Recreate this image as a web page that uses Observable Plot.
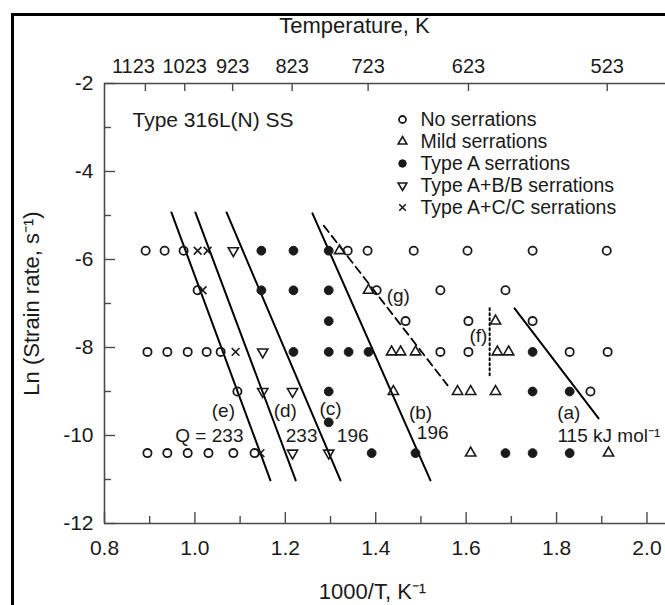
<!DOCTYPE html>
<html><head><meta charset="utf-8">
<script src="https://cdn.jsdelivr.net/npm/d3@7"></script>
<script src="https://cdn.jsdelivr.net/npm/@observablehq/plot@0.6"></script>
<style>
html,body{margin:0;padding:0;background:#fff;}
#wrap{position:relative;width:665px;height:605px;overflow:hidden;background:#fff;}
#chart{position:absolute;left:0;top:0;}
#borderTop{position:absolute;left:11px;top:13px;width:654px;height:3px;background:#000;}
#borderLeft{position:absolute;left:11px;top:13px;width:3px;height:592px;background:#000;}
</style></head><body>
<div id="wrap"><div id="chart"></div><div id="borderTop"></div><div id="borderLeft"></div></div>
<script>
// ---- data (x = 1000/T in K^-1, y = ln strain rate) ----
const noSerrations = [
  [0.891,-5.8],[0.933,-5.8],[0.975,-5.8],[1.338,-5.8],[1.382,-5.8],[1.484,-5.8],[1.603,-5.8],[1.747,-5.8],[1.911,-5.8],
  [1.006,-6.7],[1.402,-6.7],[1.543,-6.7],[1.687,-6.7],
  [1.466,-7.4],[1.605,-7.4],[1.747,-7.4],
  [0.895,-8.1],[0.939,-8.1],[0.984,-8.1],[1.026,-8.1],[1.057,-8.1],[1.543,-8.1],[1.605,-8.1],[1.829,-8.1],[1.913,-8.1],
  [1.094,-9.0],[1.875,-9.0],
  [0.895,-10.4],[0.939,-10.4],[0.984,-10.4],[1.030,-10.4],[1.085,-10.4],[1.132,-10.4]
];
const mildSerrations = [
  [1.320,-5.8],[1.384,-6.7],[1.665,-7.4],
  [1.435,-8.1],[1.455,-8.1],[1.488,-8.1],[1.669,-8.1],[1.694,-8.1],
  [1.439,-9.0],[1.581,-9.0],[1.610,-9.0],[1.665,-9.0],
  [1.610,-10.4],[1.915,-10.4]
];
const typeA = [
  [1.147,-5.8],[1.218,-5.8],[1.296,-5.8],
  [1.147,-6.7],[1.218,-6.7],[1.296,-6.7],
  [1.296,-7.4],
  [1.218,-8.1],[1.296,-8.1],[1.340,-8.1],[1.384,-8.1],[1.747,-8.1],
  [1.296,-9.0],[1.747,-9.0],[1.829,-9.0],
  [1.296,-9.7],
  [1.391,-10.4],[1.488,-10.4],[1.687,-10.4],[1.747,-10.4],[1.829,-10.4]
];
const typeAB = [[1.085,-5.8],[1.150,-8.1],[1.150,-9.0],[1.216,-9.0],[1.216,-10.4],[1.296,-10.4]];
const typeAC = [[1.006,-5.8],[1.028,-5.8],[1.017,-6.7],[1.090,-8.1],[1.145,-10.4]];

// fitted lines (end points)
const solidLines = {
  a: [[1.707,-7.11],[1.893,-9.61]],
  b: [[1.260,-4.95],[1.521,-11.02]],
  c: [[1.070,-4.93],[1.322,-11.02]],
  d: [[1.001,-4.93],[1.223,-11.02]],
  e: [[0.948,-4.93],[1.167,-11.02]]
};
const dashedLineG = [[1.285,-5.23],[1.559,-8.86]];
const dottedLineF = [[1.652,-7.11],[1.652,-8.68]];

// annotations
const lineLabels = ["(a)","(b)","(c)","(d)","(e)","(f)","(g)"];
const lineLabelX = [1.827,1.499,1.300,1.200,1.063,1.627,1.450];
const lineLabelY = [-9.48,-9.48,-9.39,-9.43,-9.43,-7.73,-6.82];
const energyLabels = ["196","196","233","Q = 233"];
const energyX = [1.526,1.349,1.236,1.032];
const energyY = [-9.95,-10.0,-10.0,-10.0];
const unitLabel = "115 kJ mol⁻¹";
const unitLabelPos = [1.802,-10.0];

// axes
const xDomain = [0.8, 2.041];
const yDomain = [-12, -2];
const xMajorTicks = [0.8,1.0,1.2,1.4,1.6,1.8,2.0];
const xMinorTicks = [0.9,1.1,1.3,1.5,1.7,1.9];
const yMajorTicks = [-2,-4,-6,-8,-10,-12];
const yMinorTicks = [-3,-5,-7,-9,-11];
const tempTicks = [1123,1023,923,823,723,623,523];
const legendLabels = ["No serrations","Mild serrations","Type A serrations","Type A+B/B serrations","Type A+C/C serrations"];

// ---- drawing ----
const INK = "#1a1a1a";
const AXIS = "#4a4a4a";
const sqrt3 = Math.sqrt(3);
const triangleDown = {draw(ctx, size){
  const y = -Math.sqrt(size / (sqrt3 * 3));
  ctx.moveTo(0, -y * 2); ctx.lineTo(-sqrt3 * y, y); ctx.lineTo(sqrt3 * y, y); ctx.closePath();
}};
const styles = [
  {symbol:"circle", fill:"none", stroke:INK, r:4.1, strokeWidth:1.8},
  {symbol:"triangle", fill:"none", stroke:INK, r:3.8, strokeWidth:1.6},
  {symbol:"circle", fill:INK, stroke:INK, r:4.4, strokeWidth:1},
  {symbol:triangleDown, fill:"none", stroke:INK, r:3.8, strokeWidth:1.6},
  {symbol:"times", fill:"none", stroke:INK, r:3.6, strokeWidth:1.6}
];
const series = [noSerrations, mildSerrations, typeA, typeAB, typeAC];

const lineRows = Object.entries(solidLines).flatMap(([k, pts]) => pts.map(p => ({k, x:p[0], y:p[1]})));
const frameW = 665 - 104, frameH = 605 - 83 - 82;

const marks = [
  // frame
  Plot.ruleX([xDomain[0]], {stroke:AXIS, strokeWidth:1.6}),
  Plot.ruleY([yDomain[1]], {stroke:AXIS, strokeWidth:1.6}),
  Plot.ruleY([yDomain[0]], {stroke:AXIS, strokeWidth:1.6}),
  // inward ticks
  Plot.tickX(xMajorTicks, {x:d=>d, insetTop:frameH-11, stroke:AXIS, strokeWidth:1.4}),
  Plot.tickX(xMinorTicks, {x:d=>d, insetTop:frameH-7, stroke:AXIS, strokeWidth:1.4}),
  Plot.tickY(yMajorTicks, {y:d=>d, insetRight:frameW-11, stroke:AXIS, strokeWidth:1.4}),
  Plot.tickY(yMinorTicks, {y:d=>d, insetRight:frameW-7, stroke:AXIS, strokeWidth:1.4}),
  Plot.tickX(tempTicks, {x:d=>1000/d, insetBottom:frameH-8, stroke:AXIS, strokeWidth:1.4}),
  // tick labels
  Plot.text(xMajorTicks, {x:d=>d, frameAnchor:"bottom", dy:25, textAnchor:"middle", lineAnchor:"middle", text:d=>d.toFixed(1), fontSize:21, fill:INK}),
  Plot.text(yMajorTicks, {y:d=>d, frameAnchor:"left", dx:-11, textAnchor:"end", lineAnchor:"middle", text:d=>String(d), fontSize:21, fill:INK}),
  Plot.text(tempTicks.slice(0,1), {x:d=>1000/d, frameAnchor:"top", dy:-17, dx:-12, textAnchor:"middle", lineAnchor:"middle", text:d=>String(d), fontSize:20, fill:INK}),
  Plot.text(tempTicks.slice(1), {x:d=>1000/d, frameAnchor:"top", dy:-17, textAnchor:"middle", lineAnchor:"middle", text:d=>String(d), fontSize:20, fill:INK}),
  // axis titles
  Plot.text(["Temperature, K"], {frameAnchor:"top-left", dx:250, dy:-58, textAnchor:"middle", lineAnchor:"middle", fontSize:22, fill:INK}),
  Plot.text(["1000/T, K⁻¹"], {frameAnchor:"bottom-left", dx:268, dy:68, textAnchor:"middle", lineAnchor:"middle", fontSize:22, fill:INK}),
  Plot.text(["Ln (Strain rate, s⁻¹)"], {frameAnchor:"left", rotate:-90, dx:-73, dy:0, textAnchor:"middle", lineAnchor:"middle", fontSize:22, fill:INK}),
  Plot.text(["Type 316L(N) SS"], {frameAnchor:"top-left", dx:28, dy:37, textAnchor:"start", lineAnchor:"middle", fontSize:21, fill:INK}),
  // fit lines
  Plot.line(lineRows, {x:"x", y:"y", z:"k", stroke:"#000", strokeWidth:2}),
  Plot.line(dashedLineG, {x:d=>d[0], y:d=>d[1], stroke:"#000", strokeWidth:1.8, strokeDasharray:"8,5"}),
  Plot.line(dottedLineF, {x:d=>d[0], y:d=>d[1], stroke:"#000", strokeWidth:2, strokeDasharray:"2,3"}),
  // annotations
  Plot.text(lineLabels, {x:(d,i)=>lineLabelX[i], y:(d,i)=>lineLabelY[i], text:d=>d, fontSize:19, fill:INK}),
  Plot.text(energyLabels, {x:(d,i)=>energyX[i], y:(d,i)=>energyY[i], text:d=>d, fontSize:19, fill:INK}),
  Plot.text([unitLabel], {x:()=>unitLabelPos[0], y:()=>unitLabelPos[1], textAnchor:"start", fontSize:19, fill:INK}),
  // data points
  ...series.map((s, i) => Plot.dot(s, {x:d=>d[0], y:d=>d[1], ...styles[i]})),
  // legend
  ...legendLabels.flatMap((lab, i) => [
    Plot.dot([lab], {frameAnchor:"top-left", dx:298, dy:36 + i*22, ...styles[i], r:styles[i].r*0.85}),
    Plot.text([lab], {frameAnchor:"top-left", dx:316, dy:36 + i*22, textAnchor:"start", lineAnchor:"middle", fontSize:19.5, fill:INK})
  ])
];

const chart = Plot.plot({
  width:665, height:605,
  marginLeft:104, marginRight:0, marginTop:83, marginBottom:82,
  x:{domain:xDomain, axis:null},
  y:{domain:yDomain, axis:null},
  style:{fontFamily:"'Liberation Sans', Arial, Helvetica, sans-serif", background:"white", color:INK, overflow:"visible"},
  marks
});
document.getElementById("chart").appendChild(chart);
</script>
</body></html>
